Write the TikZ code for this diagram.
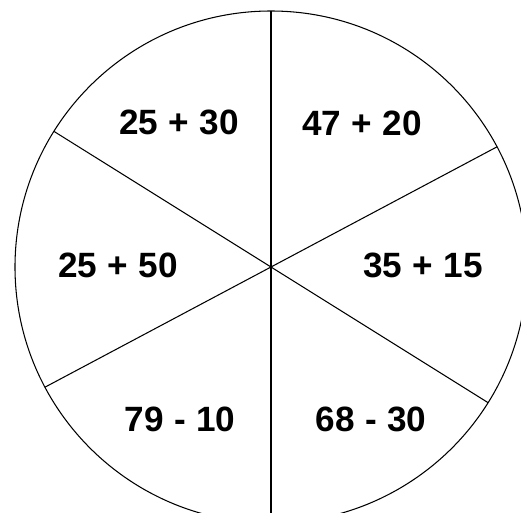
\documentclass[tikz,border=0pt]{standalone}
\usepackage{fontspec}
\setmainfont{Liberation Sans}
\newcommand{\op}[1]{\hspace{.3em}#1\hspace{.3em}}
\begin{document}
\begin{tikzpicture}[sum/.style={font=\bfseries\fontsize{20}{24}\selectfont}]
            \useasboundingbox (-5.42,-4.90) rectangle (5.00,5.34);
            \clip (-5.42,-4.90) rectangle (5.00,5.34);
            \coordinate (c) at (0,0);
            \coordinate (top) at (90:5.12);
            \coordinate (bot) at (-90:5.12);
            \coordinate (ul) at (148:5.12);
            \coordinate (lr) at (-32:5.12);
            \coordinate (ur) at (28:5.12);
            \coordinate (ll) at (208:5.12);
            \draw[line width=0.6pt] (c) circle (5.12);
            \draw[line width=0.7pt] (top) -- (bot);
            \draw[line width=0.6pt] (ul) -- (lr);
            \draw[line width=0.6pt] (ur) -- (ll);
            \node[sum] (s1) at (-1.84,2.89) {25\op{+}30};
            \node[sum] (s2) at (1.82,2.88) {47\op{+}20};
            \node[sum] (s3) at (-3.06,0.04) {25\op{+}50};
            \node[sum] (s4) at (3.04,0.04) {35\op{+}15};
            \node[sum] (s5) at (-1.82,-3.04) {79\op{-}10};
            \node[sum] (s6) at (2.00,-3.04) {68\op{-}30};
        \end{tikzpicture}
\end{document}
